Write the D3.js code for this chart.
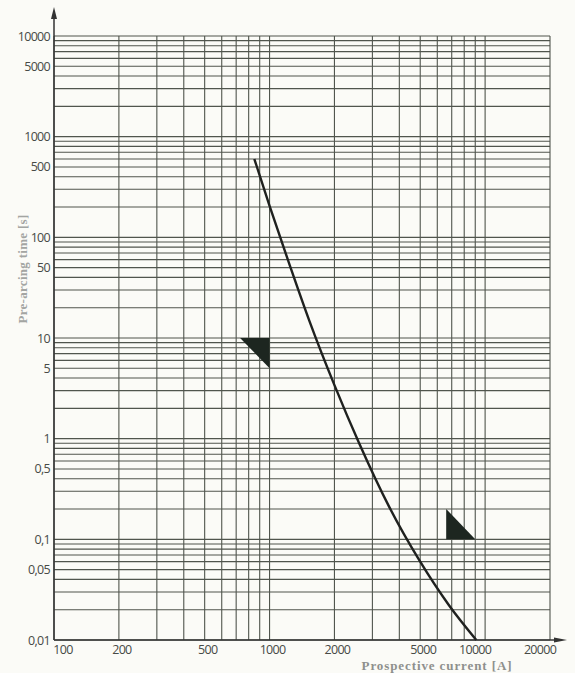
<!DOCTYPE html>
<html>
<head>
<meta charset="utf-8">
<script src="https://cdn.jsdelivr.net/npm/d3@7"></script>
<style>
  html, body { margin: 0; padding: 0; background: #fbfbf7; }
  svg { display: block; }
</style>
</head>
<body>
<svg width="575" height="673"></svg>
<script>
// prospective current [A] and pre-arcing time [s]
const current = [850, 1000, 1240, 1530, 2000, 2610, 3590, 4950, 6810, 9100];
const preArcing = [600, 205, 53, 14.8, 3.4, 0.89, 0.21, 0.062, 0.022, 0.01];

// the two marker triangles (corners)
const triLeft = [[730, 10], [1000, 10], [1000, 5]];
const triRight = [[6600, 0.2], [6600, 0.1], [9000, 0.1]];

const xTickValues = [100, 200, 500, 1000, 2000, 5000, 10000, 20000];
const xTickLabels = ["100", "200", "500", "1000", "2000", "5000", "10000", "20000"];
const yTickValues = [10000, 5000, 1000, 500, 100, 50, 10, 5, 1, 0.5, 0.1, 0.05, 0.01];
const yTickLabels = ["10000", "5000", "1000", "500", "100", "50", "10", "5", "1", "0,5", "0,1", "0,05", "0,01"];

const gridColor = "#50554d";
const labelColor = "#474a46";

let svg = d3.select("svg");

let x = d3.scaleLog().domain([100, 20000]).range([54, 550]);
let y = d3.scaleLog().domain([0.01, 10000]).range([640, 36]);

let grid = svg.append("g").attr("class", "grid");

// horizontal grid: 1..9 per decade
grid.selectAll(".hline")
    .data(y.ticks())
    .enter().append("line")
    .attr("class", "hline")
    .attr("x1", x(100)).attr("x2", x(20000))
    .attr("y1", d => y(d)).attr("y2", d => y(d))
    .attr("stroke", gridColor)
    .attr("stroke-width", 1.1);

// vertical grid
grid.selectAll(".vline")
    .data(x.ticks())
    .enter().append("line")
    .attr("class", "vline")
    .attr("x1", d => x(d)).attr("x2", d => x(d))
    .attr("y1", y(10000)).attr("y2", y(0.01))
    .attr("stroke", gridColor)
    .attr("stroke-width", 1.1);

// axes with arrow heads
let axisG = svg.append("g");
axisG.append("line")
    .attr("x1", x(100)).attr("x2", x(100))
    .attr("y1", y(0.01)).attr("y2", 12)
    .attr("stroke", "#333").attr("stroke-width", 1.5);
axisG.append("path")
    .attr("d", d3.line()([[x(100) - 3, 19], [x(100), 7], [x(100) + 3, 19]]) + "Z")
    .attr("fill", "#333");
axisG.append("line")
    .attr("x1", x(100)).attr("x2", 560)
    .attr("y1", y(0.01)).attr("y2", y(0.01))
    .attr("stroke", "#333").attr("stroke-width", 1.5);
axisG.append("path")
    .attr("d", d3.line()([[554, y(0.01) - 2.5], [567, y(0.01)], [554, y(0.01) + 2.5]]) + "Z")
    .attr("fill", "#333");

// tick labels
svg.append("g").selectAll("text")
    .data(yTickValues)
    .enter().append("text")
    .attr("x", 50)
    .attr("y", d => y(d))
    .attr("dy", "0.36em")
    .attr("text-anchor", "end")
    .attr("font-family", "'Open Sans', sans-serif")
    .attr("font-size", 12.5)
    .attr("letter-spacing", -0.7)
    .attr("fill", labelColor)
    .text((d, i) => yTickLabels[i]);

svg.append("g").selectAll("text")
    .data(xTickValues)
    .enter().append("text")
    .attr("x", (d, i) => x(d) + (i === 0 ? 9 : (d >= 10000 ? -10 : 3)))
    .attr("y", 654)
    .attr("text-anchor", "middle")
    .attr("font-family", "'Open Sans', sans-serif")
    .attr("font-size", 12.5)
    .attr("letter-spacing", -0.7)
    .attr("fill", labelColor)
    .text((d, i) => xTickLabels[i]);

// axis titles
svg.append("text")
    .attr("transform", "translate(27,269) rotate(-90)")
    .attr("text-anchor", "middle")
    .attr("font-family", "'Liberation Serif', serif")
    .attr("font-weight", "bold")
    .attr("font-size", 13)
    .attr("letter-spacing", 0.3)
    .attr("fill", "#a3a5a2")
    .text("Pre-arcing time [s]");

svg.append("text")
    .attr("x", 437)
    .attr("y", 670)
    .attr("text-anchor", "middle")
    .attr("font-family", "'Liberation Serif', serif")
    .attr("font-weight", "bold")
    .attr("font-size", 13)
    .attr("letter-spacing", 0.9)
    .attr("fill", "#8e908d")
    .text("Prospective current [A]");

// triangles
let triLine = d3.line().x(d => x(d[0])).y(d => y(d[1]));
[triLeft, triRight].forEach(t => {
    svg.append("path")
        .attr("d", triLine(t) + "Z")
        .attr("fill", "#1d2620");
});

// characteristic curve
let curveData = d3.zip(current, preArcing);
svg.append("path")
    .datum(curveData)
    .attr("fill", "none")
    .attr("stroke", "#1f211f")
    .attr("stroke-width", 2.4)
    .attr("d", d3.line().x(d => x(d[0])).y(d => y(d[1])).curve(d3.curveMonotoneX));
</script>
</body>
</html>
